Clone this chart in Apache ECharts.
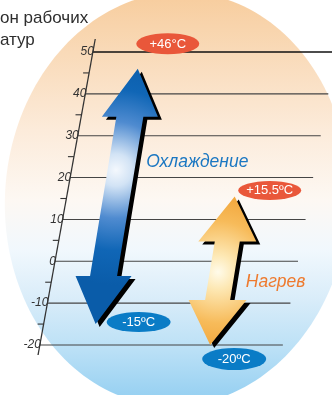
<!DOCTYPE html>
<html><head><meta charset="utf-8">
<script src="https://cdn.jsdelivr.net/npm/echarts@6/dist/echarts.min.js"></script>
<style>html,body{margin:0;padding:0;background:#fff}#c{width:332px;height:395px}</style>
</head><body><div id="c"></div>
<script>
// ---- data ----
const titleLines = ['он рабочих', 'атур'];
const tickValues = [-20, -10, 0, 10, 20, 30, 40, 50];
const tickLabels = ['-20', '-10', '0', '10', '20', '30', '40', '50'];
const minorTickValues = [-15, -5, 5, 15, 25, 35, 45];
const modes = ['Охлаждение', 'Нагрев'];
const maxTemps = [46, 15.5];
const minTemps = [-15, -20];
const maxLabels = ['+46°C', '+15.5ºC'];
const minLabels = ['-15ºC', '-20ºC'];

// ---- layout / style ----
const AXIS_X0 = 55, SLANT = 0.181, LINE_LEN = 243;
const ARROW_SLANT = 0.165;
const arrowLayout = [
  {x0: 106, half: 13.5, headLen: 48, headHalf: 28,
   stops: [[0, '#f4f8fd'], [0.14, '#d2e3f5'], [0.42, '#4f8bd0'], [0.7, '#1066b6'], [1, '#0a5ca9']], gc: [116, 170, 115],
   top: {dx: 30, dy: -25, rx: 31.5, ry: 10.5, color: '#e9573a'},
   bot: {dx: 43, dy: -2, rx: 32, ry: 10, color: '#0a7cc6'},
   text: {dx: 75, y: 162, color: '#1b77c2'}},
  {x0: 224, half: 12.5, headLen: 45, headHalf: 29,
   stops: [[0, '#fffbea'], [0.2, '#fde8b4'], [0.6, '#f7bb5a'], [1, '#f0a033']], gc: [218, 272, 85],
   top: {dx: 35, dy: -6, rx: 31.5, ry: 9.5, color: '#e9573a'},
   bot: {dx: 24, dy: 14, rx: 32, ry: 11, color: '#0a7cc6'},
   text: {dx: 55, y: 282, color: '#ee7a2e'}}
];
const EL = {cx: 177, cy: 199, a: 172, b: 207, rot: 4 * Math.PI / 180};

const chart = echarts.init(document.getElementById('c'), null, {renderer: 'canvas'});

function ellipsePoints() {
  const pts = [];
  for (let i = 0; i < 180; i++) {
    const t = i / 180 * Math.PI * 2;
    const u = EL.a * Math.cos(t), v = EL.b * Math.sin(t);
    pts.push([EL.cx + u * Math.cos(EL.rot) - v * Math.sin(EL.rot),
              EL.cy + u * Math.sin(EL.rot) + v * Math.cos(EL.rot)]);
  }
  return pts;
}

function axisX(y, y0) { return AXIS_X0 + SLANT * (y0 - y); }

const option = {
  animation: false,
  grid: {left: 0, right: 0, top: 52, bottom: 50},
  xAxis: {type: 'value', min: 0, max: 332, show: false},
  yAxis: {type: 'value', min: -20, max: 50, interval: 10, show: false},
  graphic: [
    {type: 'polygon', z: -10, shape: {points: ellipsePoints()},
     style: {fill: new echarts.graphic.LinearGradient(0, -8, 0, 404, [
       {offset: 0, color: '#f7cc9c'},
       {offset: 0.146, color: '#f9dab8'},
       {offset: 0.335, color: '#fcebda'},
       {offset: 0.505, color: '#fdf8f3'},
       {offset: 0.626, color: '#f1f8fd'},
       {offset: 0.75, color: '#d8ecf9'},
       {offset: 0.87, color: '#bae0f6'},
       {offset: 1, color: '#92cef1'}], true)}},
    {type: 'text', z: 10, x: 0, y: 18,
     style: {text: titleLines[0], font: '17px "Liberation Sans", Arial, sans-serif', fill: '#2e2e2e', verticalAlign: 'middle'}},
    {type: 'text', z: 10, x: 0, y: 40,
     style: {text: titleLines[1], font: '17px "Liberation Sans", Arial, sans-serif', fill: '#2e2e2e', verticalAlign: 'middle'}}
  ],
  series: [
    // gridlines + tick labels
    {type: 'custom', z: 2, data: tickValues.map((v, i) => [i, v]),
     renderItem: function (params, api) {
       const i = api.value(0), v = api.value(1);
       const y0 = api.coord([0, 0])[1];
       const y = api.coord([0, v])[1];
       const ax = axisX(y, y0);
       return {type: 'group', children: [
         {type: 'line', shape: {x1: ax, y1: y, x2: ax + LINE_LEN, y2: y},
          style: {stroke: v === 50 ? '#111' : '#454545', lineWidth: v === 50 ? 1.3 : 1.1}},
         {type: 'text', style: {text: tickLabels[i], x: ax + 1, y: y, align: 'right', verticalAlign: 'middle',
          font: 'italic 12px "Liberation Sans", Arial, sans-serif', fill: '#333'}}
       ]};
     }},
    // minor ticks
    {type: 'custom', z: 2, data: minorTickValues.map(v => [0, v]),
     renderItem: function (params, api) {
       const y0 = api.coord([0, 0])[1];
       const y = api.coord([0, api.value(1)])[1];
       const ax = axisX(y, y0);
       return {type: 'line', shape: {x1: ax - 6, y1: y, x2: ax, y2: y}, style: {stroke: '#333', lineWidth: 1.1}};
     }},
    // axis line
    {type: 'custom', z: 2, data: [[0, tickValues[0], tickValues[tickValues.length - 1]]],
     renderItem: function (params, api) {
       const y0 = api.coord([0, 0])[1];
       const yb = api.coord([0, api.value(1)])[1] + 10;
       const yt = api.coord([0, api.value(2)])[1] - 13;
       return {type: 'line', shape: {x1: axisX(yb, y0), y1: yb, x2: axisX(yt, y0), y2: yt},
               style: {stroke: '#333', lineWidth: 1.3}};
     }},
    // arrows
    {type: 'custom', z: 3, data: modes.map((m, i) => [i, minTemps[i], maxTemps[i]]),
     renderItem: function (params, api) {
       const i = api.value(0);
       const L = arrowLayout[i];
       const y0 = api.coord([0, 0])[1];
       const yb = api.coord([0, api.value(1)])[1];
       const yt = api.coord([0, api.value(2)])[1];
       const cx = y => L.x0 + ARROW_SLANT * (y0 - y);
       const yh1 = yt + L.headLen, yh2 = yb - L.headLen;
       const pts = [
         [cx(yt), yt],
         [cx(yh1) + L.headHalf, yh1], [cx(yh1) + L.half, yh1],
         [cx(yh2) + L.half, yh2], [cx(yh2) + L.headHalf, yh2],
         [cx(yb), yb],
         [cx(yh2) - L.headHalf, yh2], [cx(yh2) - L.half, yh2],
         [cx(yh1) - L.half, yh1], [cx(yh1) - L.headHalf, yh1]
       ];
       const shadow = pts.map(p => [p[0] + 4, p[1] + 3]);
       return {type: 'group', children: [
         {type: 'polygon', shape: {points: shadow}, style: {fill: '#000'}},
         {type: 'polygon', shape: {points: pts}, style: {fill: new echarts.graphic.RadialGradient(L.gc[0], L.gc[1], L.gc[2],
           L.stops.map(s => ({offset: s[0], color: s[1]})), true)}}
       ]};
     }},
    // bubbles + mode labels
    {type: 'custom', z: 4, data: modes.map((m, i) => [i, minTemps[i], maxTemps[i]]),
     renderItem: function (params, api) {
       const i = api.value(0);
       const L = arrowLayout[i];
       const y0 = api.coord([0, 0])[1];
       const yb = api.coord([0, api.value(1)])[1];
       const yt = api.coord([0, api.value(2)])[1];
       const cx = y => L.x0 + ARROW_SLANT * (y0 - y);
       const font = '13px "Liberation Sans", Arial, sans-serif';
       function bubble(b, px, py, txt) {
         return [
           {type: 'circle', x: px + b.dx, y: py + b.dy, scaleX: b.rx / 10, scaleY: b.ry / 10,
            shape: {cx: 0, cy: 0, r: 10}, style: {fill: b.color}},
           {type: 'text', style: {text: txt, x: px + b.dx, y: py + b.dy + 0.5, align: 'center', verticalAlign: 'middle', font: font, fill: '#fff'}}
         ];
       }
       const ty = L.text.y;
       return {type: 'group', children: [].concat(
         bubble(L.top, cx(yt), yt, maxLabels[i]),
         bubble(L.bot, cx(yb), yb, minLabels[i]),
         [{type: 'text', style: {text: modes[i], x: cx(ty) + L.text.dx, y: ty, align: 'center', verticalAlign: 'middle',
           font: 'italic 17.5px "Liberation Sans", Arial, sans-serif', fill: L.text.color}}]
       )};
     }}
  ]
};
chart.setOption(option);
</script>
</body></html>
